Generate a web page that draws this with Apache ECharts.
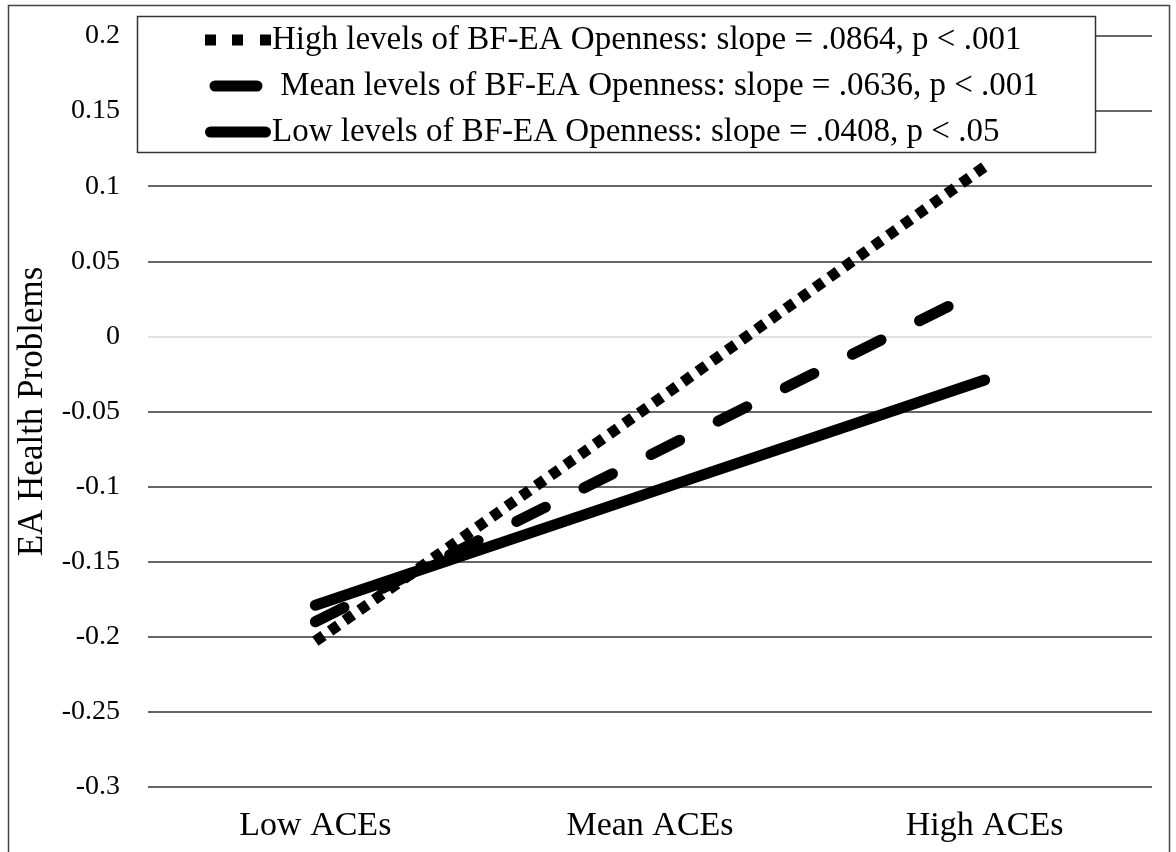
<!DOCTYPE html>
<html>
<head>
<meta charset="utf-8">
<script src="https://cdn.jsdelivr.net/npm/echarts@6/dist/echarts.min.js"></script>
<style>
  html, body { margin: 0; padding: 0; background: #fff; }
  #chart { width: 1176px; height: 852px; }
</style>
</head>
<body>
<div id="chart"></div>
<script>
// categories on the x axis
var categories = ['Low ACEs', 'Mean ACEs', 'High ACEs']
// simple slopes
var highOpenness = [-0.203, -0.046, 0.113]
var meanOpenness = [-0.190, -0.079, 0.032]
var lowOpenness = [-0.179, -0.104, -0.029]
var seriesNames = [
  'High levels of BF-EA Openness: slope = .0864, p < .001',
  ' Mean levels of BF-EA Openness: slope = .0636, p < .001',
  'Low levels of BF-EA Openness: slope = .0408, p < .05'
]
var yMin = -0.3
var yMax = 0.2
var yStep = 0.05

var font = '"Liberation Serif", "Times New Roman", serif'
// index 6 is the zero line, drawn light
var gridColors = ['#333', '#333', '#333', '#333', '#333', '#333', '#d9d9d9', '#333', '#333', '#333', '#333']

// legend icons, drawn like the line styles (66 x 11 box)
var dotIcon = 'path://M0,0h11v11h-11Z M27,0h11v11h-11Z M55,0h11v11h-11Z'
var dashIcon = 'path://M0,5h0.01v0.01h-0.01Z M66,5h0.01v0.01h-0.01Z M10,0H52A5.5,5.5 0 0 1 52,11H10A5.5,5.5 0 0 1 10,0Z'
var solidIcon = 'path://M5.5,0H60.5A5.5,5.5 0 0 1 60.5,11H5.5A5.5,5.5 0 0 1 5.5,0Z'

var chart = echarts.init(document.getElementById('chart'))
chart.setOption({
  animation: false,
  backgroundColor: '#fff',
  textStyle: { fontFamily: font, color: '#000' },
  graphic: [
    {
      type: 'rect',
      z: -1,
      shape: { x: 8.5, y: 5.5, width: 1161, height: 870 },
      style: { fill: 'none', stroke: '#444', lineWidth: 1.5 }
    },
    {
      type: 'rect',
      z: 3,
      shape: { x: 137.5, y: 16.5, width: 958, height: 136 },
      style: { fill: '#fff', stroke: '#333', lineWidth: 1.5 }
    }
  ],
  legend: {
    orient: 'vertical',
    left: 205,
    top: 23,
    z: 5,
    itemWidth: 66,
    itemHeight: 11,
    itemGap: 12,
    padding: 0,
    itemStyle: { color: '#000', borderWidth: 0 },
    textStyle: { fontFamily: font, fontSize: 33, lineHeight: 34, color: '#000', padding: [0, 0, 0, -4] },
    data: [
      { name: seriesNames[0], icon: dotIcon },
      { name: seriesNames[1], icon: dashIcon },
      { name: seriesNames[2], icon: solidIcon }
    ]
  },
  grid: { left: 148, right: 24, top: 36, bottom: 65 },
  xAxis: {
    type: 'category',
    data: categories,
    axisLine: { show: false },
    axisTick: { show: false },
    axisLabel: { fontFamily: font, fontSize: 34, color: '#000', margin: 22 }
  },
  yAxis: {
    type: 'value',
    min: yMin,
    max: yMax,
    interval: yStep,
    name: 'EA Health Problems',
    nameLocation: 'middle',
    nameGap: 92,
    nameTextStyle: { fontFamily: font, fontSize: 35, color: '#000' },
    axisLine: { show: false },
    axisTick: { show: false },
    axisLabel: { fontFamily: font, fontSize: 28, color: '#000', margin: 28 },
    splitLine: { lineStyle: { color: gridColors, width: 1.5 } }
  },
  series: [
    {
      name: seriesNames[0],
      type: 'line',
      data: highOpenness,
      showSymbol: false,
      symbol: 'none',
      z: 4,
      itemStyle: { color: '#000' },
      lineStyle: { color: '#000', width: 11, type: [10, 8], cap: 'butt' }
    },
    {
      name: seriesNames[1],
      type: 'line',
      data: meanOpenness,
      showSymbol: false,
      symbol: 'none',
      z: 4,
      itemStyle: { color: '#000' },
      lineStyle: { color: '#000', width: 11, type: [32, 43], cap: 'round' }
    },
    {
      name: seriesNames[2],
      type: 'line',
      data: lowOpenness,
      showSymbol: false,
      symbol: 'none',
      z: 4,
      itemStyle: { color: '#000' },
      lineStyle: { color: '#000', width: 11, cap: 'round' }
    }
  ]
})
</script>
</body>
</html>
